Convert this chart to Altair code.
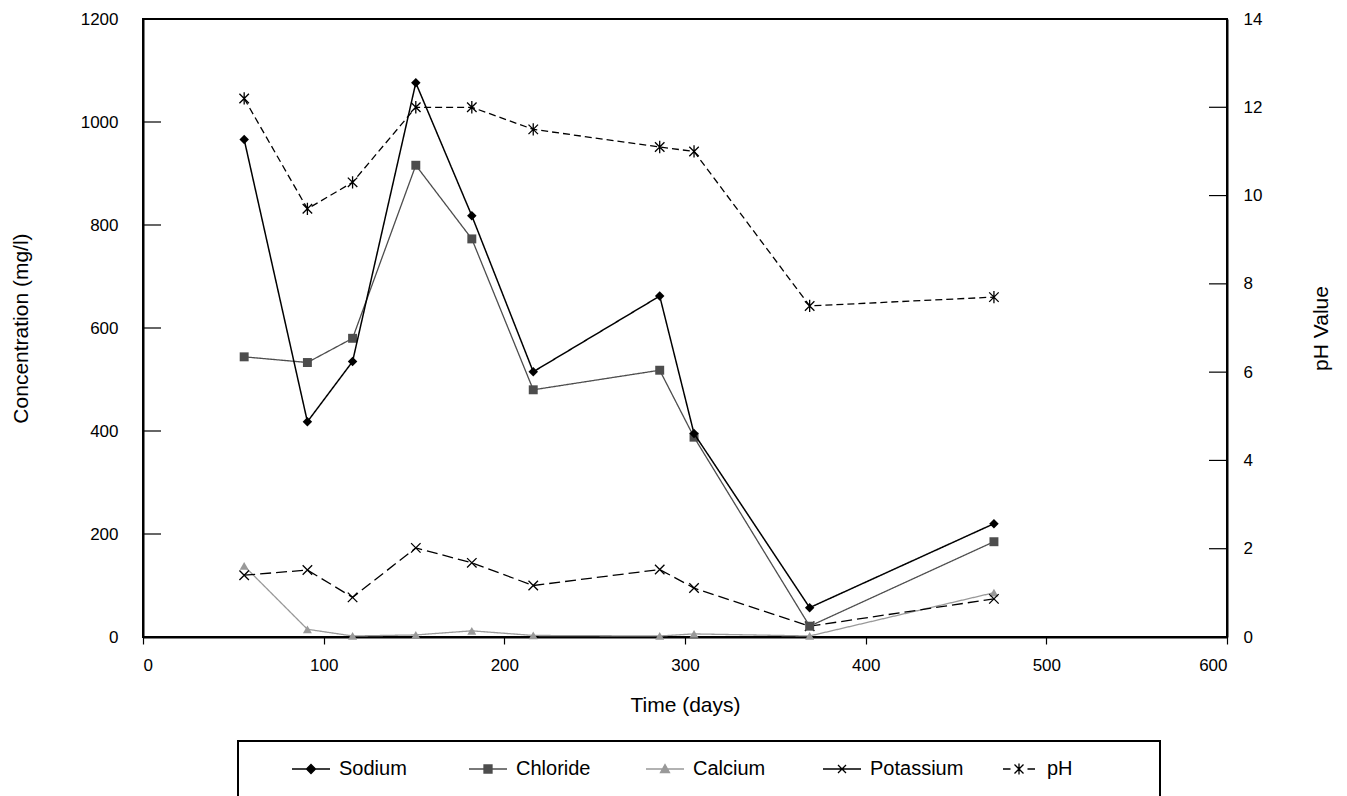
import altair as alt
import pandas as pd

# ---- data ----
days = [56, 91, 116, 151, 182, 216, 286, 305, 369, 471]
sodium = [966, 418, 535, 1076, 818, 515, 662, 395, 57, 220]
chloride = [544, 533, 580, 916, 773, 480, 518, 388, 21, 185]
calcium = [138, 15, 2, 4, 12, 3, 2, 6, 2, 86]
potassium = [120, 130, 77, 173, 144, 100, 131, 95, 21, 74]
ph = [12.2, 9.7, 10.3, 12.0, 12.0, 11.5, 11.1, 11.0, 7.5, 7.7]

series_names = ["Sodium", "Chloride", "Calcium", "Potassium", "pH"]
conc_ticks = [0, 200, 400, 600, 800, 1000, 1200]
ph_ticks = [0, 2, 4, 6, 8, 10, 12, 14]
x_ticks = [0, 100, 200, 300, 400, 500, 600]

FONT = "Liberation Sans"
W, H = 1084, 618
TICK_LEN = 18

df = pd.DataFrame({
    "days": days, "Sodium": sodium, "Chloride": chloride,
    "Calcium": calcium, "Potassium": potassium, "pH": ph,
})

X_PATH = "M-1,-1L1,1M-1,1L1,-1"
STAR_PATH = "M-1,-1L1,1M-1,1L1,-1M0,-1.3L0,1.3"

styles = {
    "Sodium": dict(color="#000000", width=1.5, dash=[1, 0], shape="diamond", size=90, filled=True),
    "Chloride": dict(color="#4d4d4d", width=1.3, dash=[1, 0], shape="square", size=80, filled=True),
    "Calcium": dict(color="#999999", width=1.3, dash=[1, 0], shape="triangle-up", size=80, filled=True),
    "Potassium": dict(color="#000000", width=1.3, dash=[11, 5], shape=X_PATH, size=90, filled=False),
    "pH": dict(color="#000000", width=1.3, dash=[7, 4], shape=STAR_PATH, size=90, filled=False),
}

xscale = alt.Scale(domain=[0, 600], nice=False)
yscale = alt.Scale(domain=[0, 1200], nice=False)
phscale = alt.Scale(domain=[0, 14], nice=False)

xaxis = alt.Axis(values=x_ticks, format="d", title="Time (days)", grid=False, tickSize=7,
                 tickColor="black", tickWidth=1.2, domainColor="black", domainWidth=2,
                 labelPadding=13, titlePadding=21, labelFont=FONT, labelFontSize=17,
                 titleFont=FONT, titleFontSize=21, titleFontWeight="normal",
                 labelColor="black", titleColor="black")
yaxis = alt.Axis(values=conc_ticks, format="d", title="Concentration (mg/l)", grid=False,
                 ticks=False, domainColor="black", domainWidth=2, labelPadding=25,
                 titlePadding=49, labelFont=FONT, labelFontSize=17, titleFont=FONT,
                 titleFontSize=21, titleFontWeight="normal", labelColor="black",
                 titleColor="black")
phaxis = alt.Axis(values=ph_ticks, format="d", title="pH Value", orient="right", grid=False,
                  ticks=False, domainColor="black", domainWidth=2, labelPadding=16,
                  titlePadding=70, titleAngle=270, labelFont=FONT, labelFontSize=17,
                  titleFont=FONT, titleFontSize=21, titleFontWeight="normal",
                  labelColor="black", titleColor="black")


def series_layers(name, scale, axis, title):
    s = styles[name]
    base = alt.Chart(df).encode(
        x=alt.X("days:Q", scale=xscale, axis=xaxis),
        y=alt.Y(f"{name}:Q", scale=scale, axis=axis, title=title),
    )
    line = base.mark_line(color=s["color"], strokeWidth=s["width"], strokeDash=s["dash"])
    if s["filled"]:
        pts = base.mark_point(shape=s["shape"], size=s["size"], filled=True,
                              fill=s["color"], color=s["color"], opacity=1, strokeWidth=0.5)
    else:
        pts = base.mark_point(shape=s["shape"], size=s["size"], filled=False,
                              color=s["color"], opacity=1, strokeWidth=1.3)
    return [line, pts]


conc_layers = []
for name in ["Calcium", "Potassium", "Chloride", "Sodium"]:
    conc_layers += series_layers(name, yscale, yaxis, "Concentration (mg/l)")
ph_layers = series_layers("pH", phscale, phaxis, "pH Value")

# inward tick marks along both vertical axes (drawn inside the same scales)
left_rules = alt.Chart(pd.DataFrame({"v": conc_ticks})).mark_tick(
    orient="horizontal", thickness=1.2, color="black", opacity=1).encode(
    y=alt.Y("v:Q", scale=yscale, axis=yaxis, title="Concentration (mg/l)"),
    x=alt.value(TICK_LEN / 2),
    size=alt.value(TICK_LEN),
)
right_rules = alt.Chart(pd.DataFrame({"v": ph_ticks})).mark_tick(
    orient="horizontal", thickness=1.2, color="black", opacity=1).encode(
    y=alt.Y("v:Q", scale=phscale, axis=phaxis, title="pH Value"),
    x=alt.value(W - TICK_LEN / 2),
    size=alt.value(TICK_LEN),
)

conc = alt.layer(*conc_layers, left_rules)
ph_layer = alt.layer(*ph_layers, right_rules)

# legend symbols: a short line through the marker
LEG_PATHS = [
    "M-1.9,0H1.9M0,-0.45L0.45,0L0,0.45L-0.45,0Z",
    "M-1.9,0H1.9M-0.4,-0.4H0.4V0.4H-0.4Z",
    "M-1.9,0H1.9M0,-0.45L0.45,0.35H-0.45Z",
    "M-1.9,0H1.9M-0.4,-0.4L0.4,0.4M-0.4,0.4L0.4,-0.4",
    "M-1.6,0H-0.85M0.85,0H1.6M-0.45,-0.45L0.45,0.45M-0.45,0.45L0.45,-0.45M0,-0.55V0.55",
]
leg_stroke = ["#000000", "#4d4d4d", "#999999", "#000000", "#000000"]
leg_fill = ["#000000", "#4d4d4d", "#999999", "transparent", "transparent"]

legend = alt.Legend(orient="none", legendX=157, legendY=739, direction="horizontal",
                    title=None, symbolSize=400, labelOffset=17, columnPadding=33,
                    gridAlign="all", labelFont=FONT, labelFontSize=20, labelColor="black",
                    labelLimit=300, symbolStrokeWidth=1.3, symbolOpacity=1, padding=0)

leg_layer = alt.Chart(pd.DataFrame({"series": series_names})).mark_point(
    opacity=0, filled=False).encode(
    x=alt.value(0), y=alt.value(0),
    shape=alt.Shape("series:N", scale=alt.Scale(domain=series_names, range=LEG_PATHS), legend=legend),
    stroke=alt.Stroke("series:N", scale=alt.Scale(domain=series_names, range=leg_stroke), legend=legend),
    fill=alt.Fill("series:N", scale=alt.Scale(domain=series_names, range=leg_fill), legend=legend),
)

box = alt.Chart(pd.DataFrame({"b": [0]})).mark_rect(
    fillOpacity=0, stroke="black", strokeWidth=2).encode(
    x=alt.value(95), x2=alt.value(1017), y=alt.value(722), y2=alt.value(780),
)

chart = alt.layer(conc, ph_layer, box, leg_layer).resolve_scale(
    y="independent"
).properties(
    width=W, height=H, padding={"left": 2, "top": 2, "right": 2, "bottom": 0},
    background="white",
).configure_view(stroke="black", strokeWidth=2)

chart.save("out.html", embed_options={"renderer": "svg", "actions": False})
